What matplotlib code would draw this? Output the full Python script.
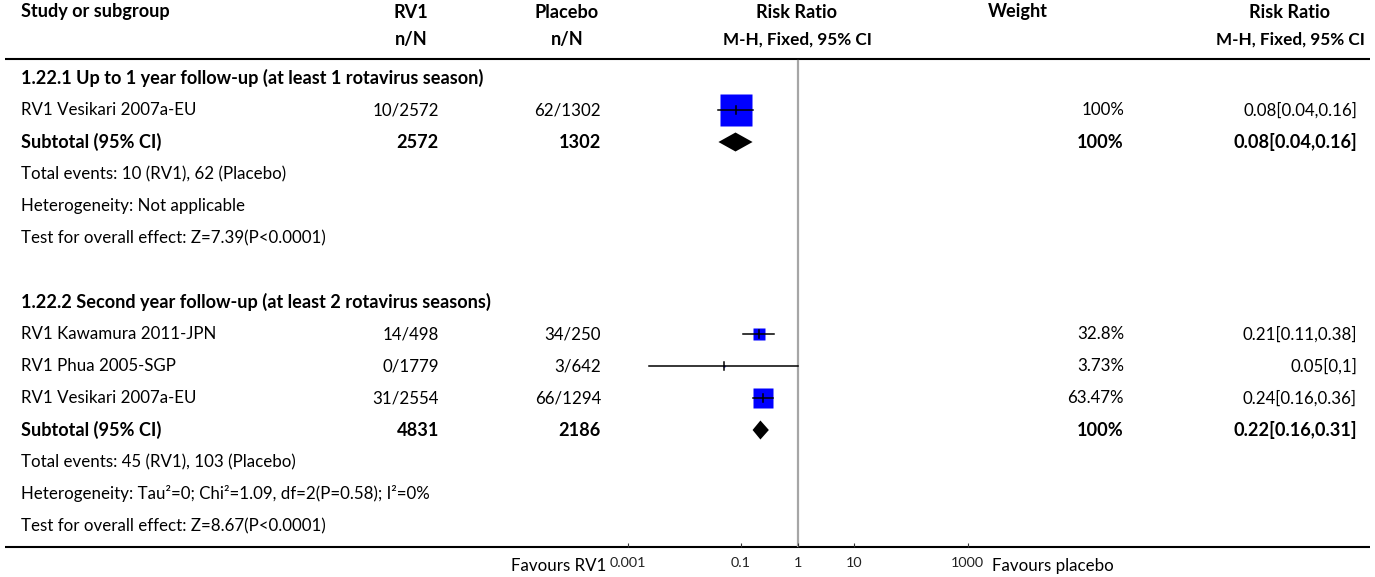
import numpy as np
import matplotlib.pyplot as plt
from matplotlib.ticker import FixedLocator, FixedFormatter, NullLocator

plt.rcParams['font.family'] = ['Lato', 'DejaVu Sans']

# ---- data ----
group_titles = ["1.22.1 Up to 1 year follow-up (at least 1 rotavirus season)",
                "1.22.2 Second year follow-up (at least 2 rotavirus seasons)"]
study_names = ["RV1 Vesikari 2007a-EU", "RV1 Kawamura 2011-JPN",
               "RV1 Phua 2005-SGP", "RV1 Vesikari 2007a-EU"]
study_group = [0, 1, 1, 1]
rv1_events = [10, 14, 0, 31]
rv1_total = [2572, 498, 1779, 2554]
pla_events = [62, 34, 3, 66]
pla_total = [1302, 250, 642, 1294]
rr = [0.08, 0.21, 0.05, 0.24]
rr_lo = [0.04, 0.11, 0, 0.16]
rr_hi = [0.16, 0.38, 1, 0.36]
weight_txt = ["100%", "32.8%", "3.73%", "63.47%"]
weight = [100, 32.8, 3.73, 63.47]

sub_rv1_total = [2572, 4831]
sub_pla_total = [1302, 2186]
sub_rv1_events = [10, 45]
sub_pla_events = [62, 103]
sub_rr = [0.08, 0.22]
sub_lo = [0.04, 0.16]
sub_hi = [0.16, 0.31]
heterogeneity = ["Not applicable", "Tau²=0; Chi²=1.09, df=2(P=0.58); I²=0%"]
overall_effect = ["Z=7.39(P<0.0001)", "Z=8.67(P<0.0001)"]

axis_ticks = [0.001, 0.1, 1, 10, 1000]
axis_labels = ["0.001", "0.1", "1", "10", "1000"]

# ---- layout (pixels) ----
W, H = 1375, 577
FS = 12.2          # regular text
FSB = 13.1         # bold text (Lato bold runs narrow)
row_h = 32
axis_y = 547
ci_floor = 0.0024          # where open-ended CIs get clipped
c_one, per_dec = 797.7, 56.7
fx0, fx1 = 600, 1000

x_study = 21
x_rv1, x_rv1_h = 439, 411
x_pla, x_pla_h = 601, 567
x_rr_h = 797
x_w, x_w_h = 1124, 1018
x_rrt, x_rrt_h = 1357, 1290


def fmt(v):
    return f"{v:g}"


fig = plt.figure(figsize=(W / 100, H / 100), dpi=100)
ax = fig.add_axes([0, 0, 1, 1])
ax.set_xlim(0, W)
ax.set_ylim(H, 0)
ax.axis("off")

fax = fig.add_axes([fx0 / W, (H - axis_y) / H, (fx1 - fx0) / W, axis_y / H])
fax.set_xscale("log")
fax.set_xlim(10 ** ((fx0 - c_one) / per_dec), 10 ** ((fx1 - c_one) / per_dec))
fax.set_ylim(axis_y, 0)
fax.patch.set_visible(False)
for s in fax.spines.values():
    s.set_visible(False)
fax.xaxis.set_major_locator(FixedLocator(axis_ticks))
fax.xaxis.set_major_formatter(FixedFormatter(axis_labels))
fax.xaxis.set_minor_locator(NullLocator())
fax.yaxis.set_major_locator(NullLocator())
fax.tick_params(axis="x", direction="in", length=3, width=0.8, color="#333333",
                pad=7, labelsize=10.4, labelcolor="#222222")

# headers
bold = dict(fontsize=FSB, fontweight="bold", va="center")
bold_sm = dict(fontsize=12.3, fontweight="bold", va="center")
ax.text(x_study, 12, "Study or subgroup", ha="left", **bold)
ax.text(x_rv1_h, 12, "RV1", ha="center", **bold)
ax.text(x_rv1_h, 40, "n/N", ha="center", **bold)
ax.text(x_pla_h, 12, "Placebo", ha="center", **bold)
ax.text(x_pla_h, 40, "n/N", ha="center", **bold)
ax.text(x_rr_h, 12, "Risk Ratio", ha="center", **bold)
ax.text(x_rr_h, 40, "M-H, Fixed, 95% CI", ha="center", **bold_sm)
ax.text(x_w_h, 12, "Weight", ha="center", **bold)
ax.text(x_rrt_h, 12, "Risk Ratio", ha="center", **bold)
ax.text(x_rrt_h, 40, "M-H, Fixed, 95% CI", ha="center", **bold_sm)

ax.plot([5, 1370], [59, 59], color="black", lw=1.5, solid_capstyle="butt")
ax.plot([5, 1370], [axis_y, axis_y], color="black", lw=1.5, solid_capstyle="butt")

fax.plot([1, 1], [61, axis_y], color="#a6a6a6", lw=1.6, zorder=1)

reg = dict(fontsize=FS, va="center")
y = 78
for g, title in enumerate(group_titles):
    ax.text(x_study, y, title, ha="left", **bold)
    y += row_h
    for i in range(len(study_names)):
        if study_group[i] != g:
            continue
        ax.text(x_study, y, study_names[i], ha="left", **reg)
        ax.text(x_rv1, y, f"{rv1_events[i]}/{rv1_total[i]}", ha="right", **reg)
        ax.text(x_pla, y, f"{pla_events[i]}/{pla_total[i]}", ha="right", **reg)
        ax.text(x_w, y, weight_txt[i], ha="right", **reg)
        ax.text(x_rrt, y, f"{fmt(rr[i])}[{fmt(rr_lo[i])},{fmt(rr_hi[i])}]", ha="right", **reg)
        lo = max(rr_lo[i], ci_floor)
        side = 30 * weight[i] / 100 + 1.5
        fax.plot([rr[i]], [y], marker="s", ms=side * 0.72, color="#0000ff",
                 mec="none", zorder=3)
        fax.plot([lo, rr_hi[i]], [y, y], color="black", lw=1.1, zorder=4)
        fax.plot([rr[i], rr[i]], [y - 4, y + 4], color="black", lw=1.1, zorder=4)
        y += row_h
    # subtotal
    ax.text(x_study, y, "Subtotal (95% CI)", ha="left", **bold)
    ax.text(x_rv1, y, f"{sub_rv1_total[g]}", ha="right", **bold)
    ax.text(x_pla, y, f"{sub_pla_total[g]}", ha="right", **bold)
    ax.text(x_w, y, "100%", ha="right", **bold)
    ax.text(x_rrt, y, f"{fmt(sub_rr[g])}[{fmt(sub_lo[g])},{fmt(sub_hi[g])}]", ha="right", **bold)
    fax.fill([sub_lo[g], sub_rr[g], sub_hi[g], sub_rr[g]],
             [y, y - 9.5, y, y + 9.5], color="black", lw=0, zorder=3)
    y += row_h
    ax.text(x_study, y, f"Total events: {sub_rv1_events[g]} (RV1), {sub_pla_events[g]} (Placebo)",
            ha="left", **reg)
    y += row_h
    ax.text(x_study, y, f"Heterogeneity: {heterogeneity[g]}", ha="left", **reg)
    y += row_h
    ax.text(x_study, y, f"Test for overall effect: {overall_effect[g]}", ha="left", **reg)
    y += 2 * row_h

ax.text(606, 566, "Favours RV1", ha="right", **reg)
ax.text(992, 566, "Favours placebo", ha="left", **reg)

fig.savefig("out.png", dpi=100)
